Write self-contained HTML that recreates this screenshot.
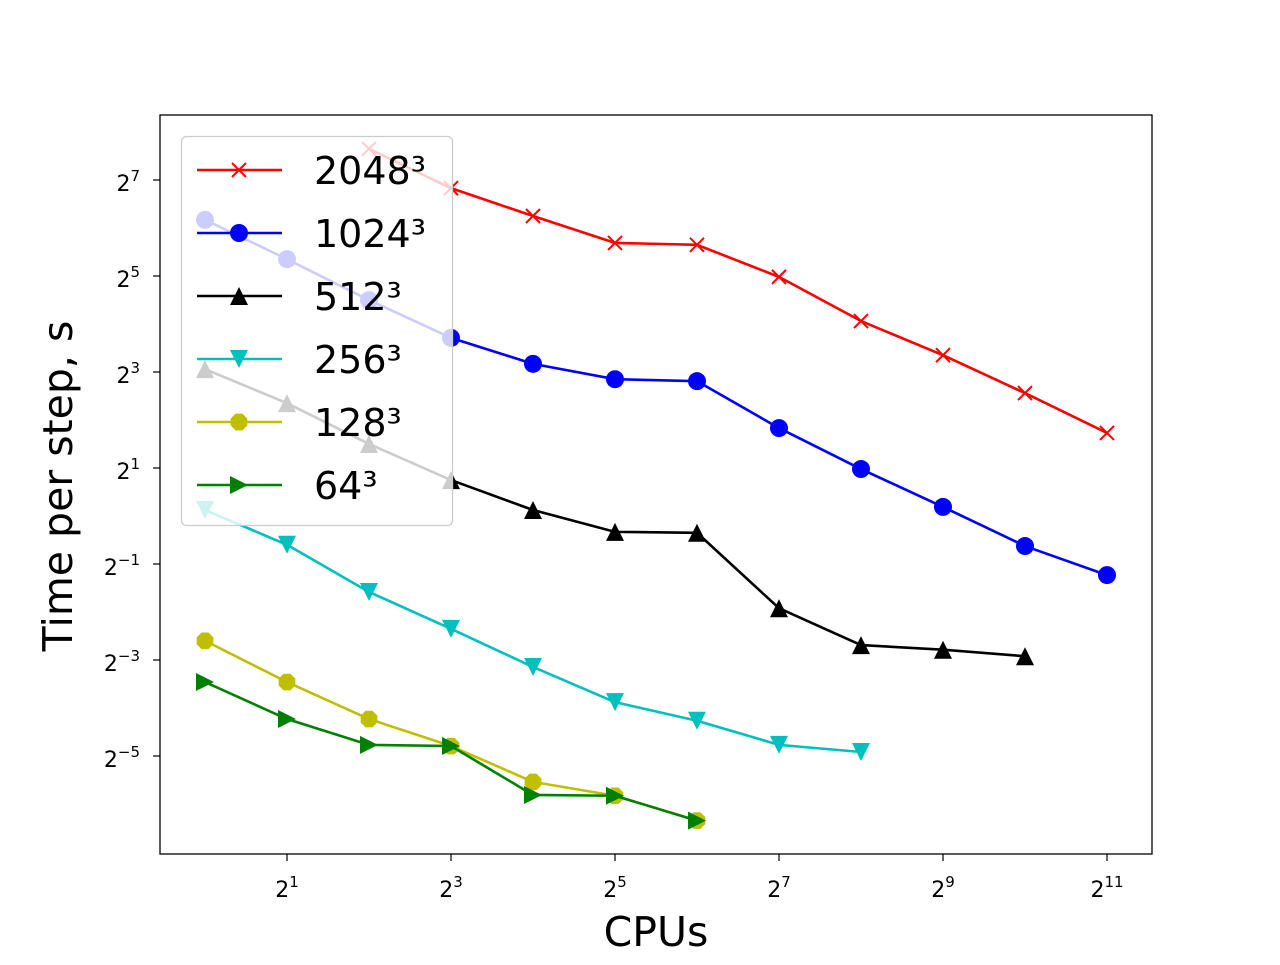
<!DOCTYPE html>
<html><head><meta charset="utf-8"><style>
html,body{margin:0;padding:0;background:#fff;}
svg text{font-family:"DejaVu Sans","Liberation Sans",sans-serif;}
</style></head><body>
<svg id="chart" width="1280" height="960" xmlns="http://www.w3.org/2000/svg"></svg>
<script>
const xExp2048 = [2,3,4,5,6,7,8,9,10,11];
const vals2048 = [200.8,113.8,76.1,51.6,50.2,31.6,16.7,10.2,5.9,3.32];
const xExp1024 = [0,1,2,3,4,5,6,7,8,9,10,11];
const vals1024 = [72.0,40.8,22.6,13.1,9.0,7.21,7.01,3.56,1.97,1.14,0.648,0.426];
const xExp512 = [0,1,2,3,4,5,6,7,8,9,10];
const vals512 = [8.34,5.10,2.83,1.68,1.09,0.795,0.785,0.264,0.155,0.145,0.132];
const xExp256 = [0,1,2,3,4,5,6,7,8];
const vals256 = [1.09,0.66,0.334,0.196,0.113,0.068,0.052,0.0367,0.0331];
const xExp128 = [0,1,2,3,4,5,6];
const vals128 = [0.165,0.0909,0.0533,0.0361,0.0215,0.0176,0.0123];
const xExp64 = [0,1,2,3,4,5,6];
const vals64 = [0.0909,0.0533,0.0367,0.0361,0.0178,0.0176,0.0123];
const xTickExps = [1,3,5,7,9,11];
const yTickExps = [7,5,3,1,-1,-3,-5];
const seriesLabels = ["2048","1024","512","256","128","64"];

const NS="http://www.w3.org/2000/svg";
const svg=document.getElementById('chart');
function el(t,a,p){const e=document.createElementNS(NS,t);for(const k in a)e.setAttribute(k,a[k]);(p||svg).appendChild(e);return e;}
function xPix(cpus){return 205+82*Math.log2(cpus);}
function yPix(v){return 180-48*(Math.log2(v)-7);}

const plot=el('rect',{x:160,y:115,width:992,height:739,fill:'none',stroke:'#000','stroke-width':1.3});



xTickExps.forEach(e=>{
  const x=xPix(Math.pow(2,e));
  const t=el('line',{x1:x,y1:854,x2:x,y2:861,stroke:'#000','stroke-width':1.2});
  
  
  const tx=el('text',{x:x,y:897,'font-size':22,'text-anchor':'middle'});
  
  
  tx.innerHTML='2<tspan dy="-10" font-size="15">'+e+'</tspan>';
});
yTickExps.forEach(e=>{
  const y=yPix(Math.pow(2,e));
  const t=el('line',{x1:153,y1:y,x2:160,y2:y,stroke:'#000','stroke-width':1.2});
  
  
  const tx=el('text',{x:140,y:y+11,'font-size':22,'text-anchor':'end'});
  
  
  tx.innerHTML='2<tspan dy="-10" font-size="15">'+(e<0?'\u2212'+(-e):e)+'</tspan>';
});
const xt=el('text',{x:656,y:946,'font-size':41,'text-anchor':'middle'});xt.textContent='CPUs';


const yt=el('text',{x:0,y:0,'font-size':41,'text-anchor':'middle',transform:'translate(72,486) rotate(-90)'});yt.textContent='Time per step, s';



function marker(type,x,y,c,g){
  const r=9;
  if(type==='x'){
    el('path',{d:`M${x-7},${y-7}L${x+7},${y+7}M${x-7},${y+7}L${x+7},${y-7}`,stroke:c,'stroke-width':2,fill:'none'},g);
  }else if(type==='o'){el('circle',{cx:x,cy:y,r:r,fill:c},g);}
  else if(type==='^'){el('polygon',{points:`${x},${y-r} ${x-r},${y+r} ${x+r},${y+r}`,fill:c},g);}
  else if(type==='v'){el('polygon',{points:`${x},${y+r} ${x-r},${y-r} ${x+r},${y-r}`,fill:c},g);}
  else if(type==='>'){el('polygon',{points:`${x+r},${y} ${x-r},${y-r} ${x-r},${y+r}`,fill:c},g);}
  else if(type==='8'){let p=[];for(let i=0;i<8;i++){const a=Math.PI/8+i*Math.PI/4;p.push((x+r*Math.cos(a))+','+(y+r*Math.sin(a)));}el('polygon',{points:p.join(' '),fill:c},g);}
}
const series=[
 [xExp2048,vals2048,'#ff0000','x'],
 [xExp1024,vals1024,'#0000ff','o'],
 [xExp512,vals512,'#000000','^'],
 [xExp256,vals256,'#00bfbf','v'],
 [xExp128,vals128,'#bfbf00','8'],
 [xExp64,vals64,'#008000','>']];
series.forEach((s,i)=>{
  const g=el('g',{});
  
  
  const pts=s[0].map((e,j)=>[xPix(Math.pow(2,e)),yPix(s[1][j])]);
  el('polyline',{points:pts.map(p=>p.join(',')).join(' '),fill:'none',stroke:s[2],'stroke-width':2.6,'stroke-linejoin':'round'},g);
  pts.forEach(p=>marker(s[3],p[0],p[1],s[2],g));
});
const lg=el('g',{});


el('rect',{x:181.5,y:136.5,width:271,height:389,rx:5,fill:'rgba(255,255,255,0.8)',stroke:'#cccccc','stroke-width':1.3},lg);
series.forEach((s,i)=>{
  const y=170+63*i;
  const e=el('g',{},lg);
  
  
  el('line',{x1:197,y1:y,x2:282,y2:y,stroke:s[2],'stroke-width':2.6},e);
  marker(s[3],239,y,s[2],e);
  const t=el('text',{x:314,y:y+14,'font-size':38},e);
  t.textContent=seriesLabels[i]+'\u00B3';
});
</script>
</body></html>
